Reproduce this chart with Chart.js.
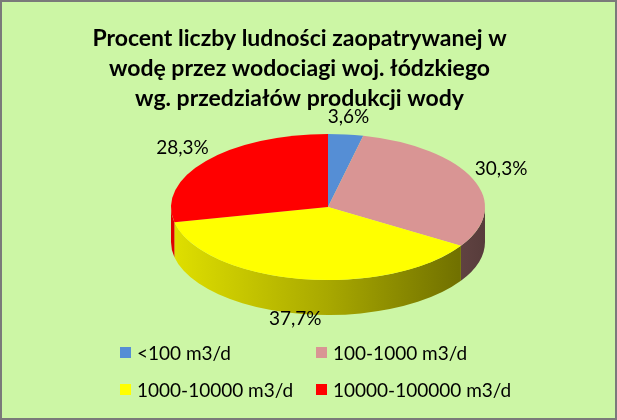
<!DOCTYPE html>
<html>
<head>
<meta charset="utf-8">
<script src="https://cdn.jsdelivr.net/npm/chart.js@4/dist/chart.umd.min.js"></script>
<style>
  body { margin: 0; background: #fff; }
  #wrap { position: relative; width: 617px; height: 420px; }
  #chart { position: absolute; left: 0; top: 0; }
  #legend {
    position: absolute; left: 120px; top: 341px;
    display: grid; grid-template-columns: 196px auto; row-gap: 14px;
    font-family: Lato, sans-serif; font-size: 19px; color: #000;
  }
  #legend div { display: flex; align-items: center; height: 23px; white-space: nowrap; }
  #legend span.box { display: inline-block; width: 11px; height: 11px; margin-right: 6px; }
</style>
</head>
<body>
<div id="wrap">
  <canvas id="chart" width="617" height="420"></canvas>
  <div id="legend"></div>
</div>
<script>
const titleLines = [
  'Procent liczby ludności zaopatrywanej w',
  'wodę przez wodociagi woj. łódzkiego',
  'wg. przedziałów produkcji wody'
];
const categories = ['<100 m3/d', '100-1000 m3/d', '1000-10000 m3/d', '10000-100000 m3/d'];
const shares = [3.6, 30.3, 37.7, 28.3];
const colors = ['#558ed5', '#d99594', '#ffff00', '#ff0000'];

// look of the tilted pie
const PIE_X = 328;
const PIE_Y = 207;
const RADIUS = 157;
const TILT = 0.465;
const DEPTH = 35;

function shade(hex, f) {
  const n = parseInt(hex.slice(1), 16);
  const r = Math.round(((n >> 16) & 255) * f);
  const g = Math.round(((n >> 8) & 255) * f);
  const b = Math.round((n & 255) * f);
  return `rgb(${r},${g},${b})`;
}

const frame = {
  id: 'frame',
  beforeDraw(chart) {
    const ctx = chart.ctx;
    ctx.save();
    ctx.fillStyle = '#ccf6a5';
    ctx.fillRect(0, 0, chart.width, chart.height);
    ctx.strokeStyle = '#7a7a7a';
    ctx.lineWidth = 2;
    ctx.strokeRect(1, 1, chart.width - 2, chart.height - 2);
    ctx.restore();
  }
};

const pie3d = {
  id: 'pie3d',
  beforeDatasetsDraw(chart) {
    const ctx = chart.ctx;
    const arcs = chart.getDatasetMeta(0).data;
    const centre = arcs[0].getProps(['x', 'y'], true);

    // side wall, only the front half shows
    arcs.forEach((arc, i) => {
      const p = arc.getProps(['startAngle', 'endAngle'], true);
      const lo = Math.max(p.startAngle, 0);
      const hi = Math.min(p.endAngle, Math.PI);
      if (lo >= hi) return;
      const grad = ctx.createLinearGradient(PIE_X - RADIUS, 0, PIE_X + RADIUS, 0);
      grad.addColorStop(0, shade(colors[i], 0.88));
      grad.addColorStop(0.5, shade(colors[i], 0.66));
      grad.addColorStop(1, shade(colors[i], 0.4));
      ctx.save();
      ctx.beginPath();
      ctx.ellipse(PIE_X, PIE_Y, RADIUS, RADIUS * TILT, 0, lo, hi);
      ctx.ellipse(PIE_X, PIE_Y + DEPTH, RADIUS, RADIUS * TILT, 0, hi, lo, true);
      ctx.closePath();
      ctx.fillStyle = grad;
      ctx.fill();
      ctx.restore();
    });

    // flatten the top face
    ctx.save();
    ctx.translate(PIE_X, PIE_Y);
    ctx.scale(1, TILT);
    ctx.translate(-centre.x, -centre.y);
  },
  afterDatasetsDraw(chart) {
    const ctx = chart.ctx;
    ctx.restore();

    const arcs = chart.getDatasetMeta(0).data;
    ctx.save();
    ctx.font = '19px Lato, sans-serif';
    ctx.fillStyle = '#000';
    ctx.textAlign = 'center';
    ctx.textBaseline = 'middle';
    arcs.forEach((arc, i) => {
      const p = arc.getProps(['startAngle', 'endAngle'], true);
      const mid = (p.startAngle + p.endAngle) / 2;
      const u = Math.cos(mid);
      const v = Math.sin(mid);
      const text = shares[i].toFixed(1).replace('.', ',') + '%';
      const w = ctx.measureText(text).width;
      const x = PIE_X + RADIUS * u + u * (w / 2 + 4);
      const y = PIE_Y + RADIUS * TILT * v + DEPTH * Math.max(v, 0) + v * 12 - 6;
      ctx.fillText(text, x, y);
    });
    ctx.restore();
  }
};

new Chart(document.getElementById('chart'), {
  type: 'pie',
  data: {
    labels: categories,
    datasets: [{
      data: shares,
      backgroundColor: colors,
      borderWidth: 0,
      radius: RADIUS,
      clip: false
    }]
  },
  options: {
    responsive: false,
    animation: false,
    events: [],
    layout: { padding: { left: 0, right: 18, top: 0, bottom: 0 } },
    plugins: {
      legend: { display: false },
      tooltip: { enabled: false },
      title: {
        display: true,
        text: titleLines,
        color: '#000',
        font: { family: 'Lato, sans-serif', size: 23, weight: 'bold', lineHeight: 1.3 },
        padding: { top: 24, bottom: 0 }
      }
    }
  },
  plugins: [frame, pie3d]
});

const legendBox = document.getElementById('legend');
categories.forEach((name, i) => {
  const item = document.createElement('div');
  item.innerHTML = `<span class="box" style="background:${colors[i]}"></span>${name}`;
  legendBox.appendChild(item);
});
</script>
</body>
</html>
